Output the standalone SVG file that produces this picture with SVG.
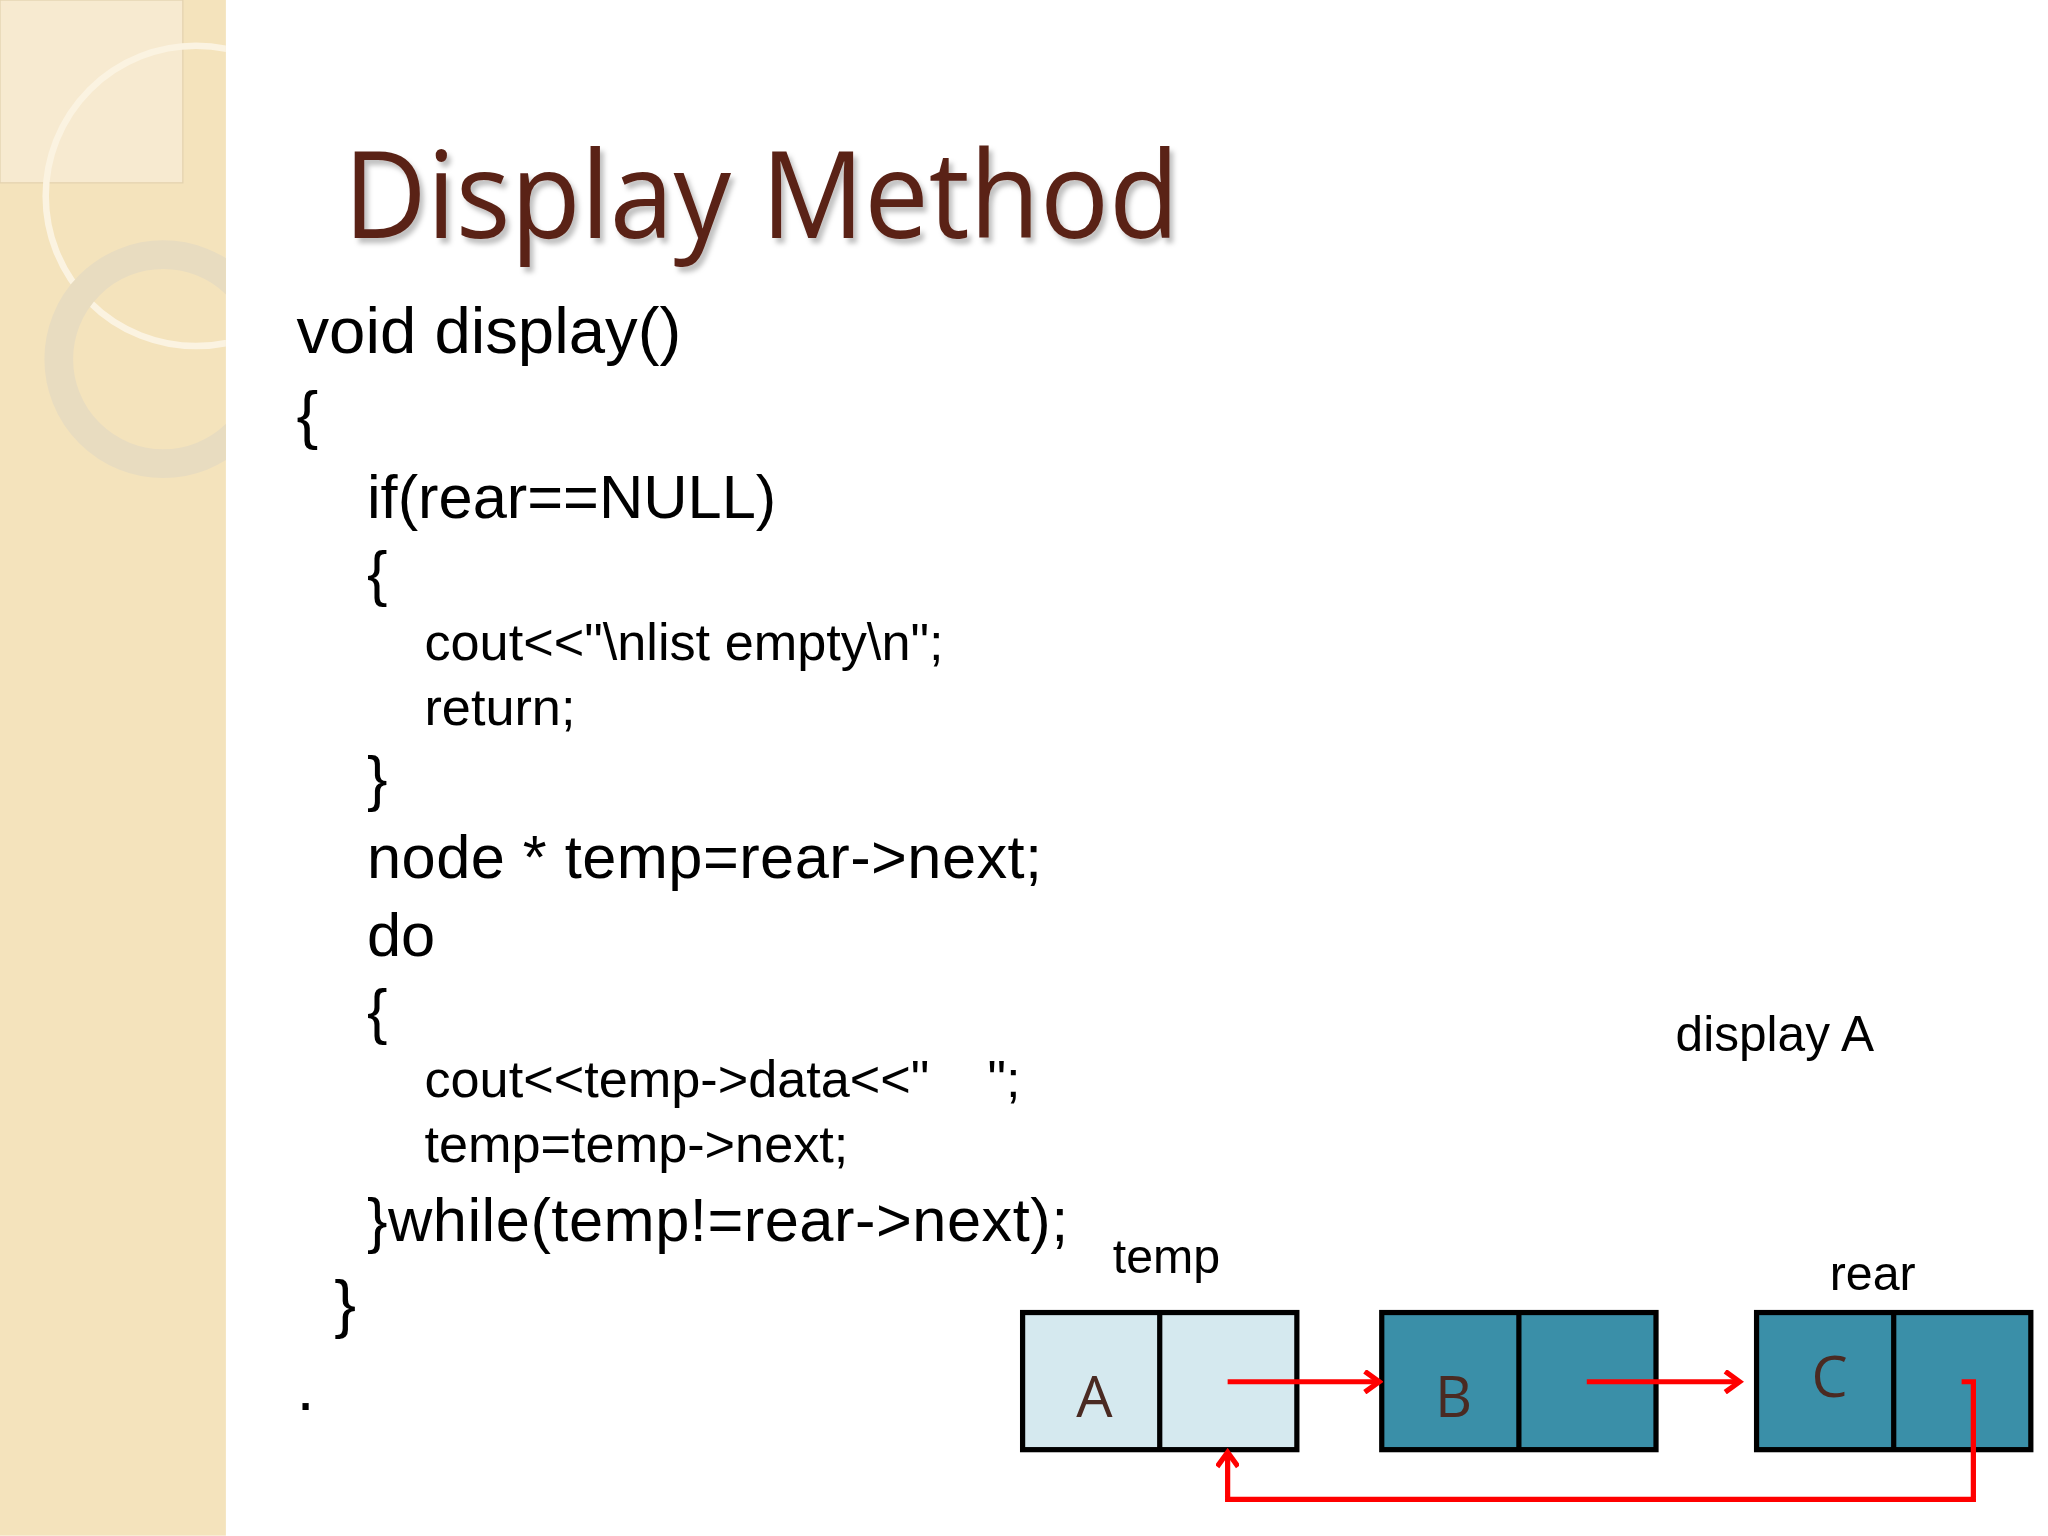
<svg xmlns="http://www.w3.org/2000/svg" width="2048" height="1536" viewBox="0 0 2048 1536">
<defs>
<style>
.c{font-family:"Liberation Sans",Arial,sans-serif;fill:#000}
.n{stroke:#000;stroke-width:4}
.l{font-family:"Open Sans","Liberation Sans",sans-serif;fill:#4a2a22;font-size:44px;text-anchor:middle}
.a{stroke:#f00;stroke-width:4;fill:none}
</style>
<clipPath id="sb"><rect x="0" y="0" width="173" height="1176"/></clipPath>
<filter id="sh" x="-5%" y="-20%" width="110%" height="140%"><feDropShadow dx="3" dy="4" stdDeviation="2" flood-color="#000" flood-opacity="0.25"/></filter>
<marker id="ah" markerWidth="16" markerHeight="18" refX="13" refY="9" orient="auto" markerUnits="userSpaceOnUse"><path d="M2,1 L13,9 L2,17" fill="none" stroke="#f00" stroke-width="4"/></marker>
</defs>
<rect width="2048" height="1536" fill="#fff"/>
<g transform="scale(1.306)">
<g id="sidebar" clip-path="url(#sb)">
<rect x="0" y="0" width="173" height="1176" fill="#f4e3bc"/>
<rect x="0" y="0" width="140" height="140" fill="#f7ead0" stroke="#e4d3b0"/>
<circle cx="150" cy="150" r="115" fill="none" stroke="#fbf3e1" stroke-width="5"/>
<circle cx="125" cy="275" r="80" fill="none" stroke="#e8dcc0" stroke-width="22"/>
</g>
<text id="title" x="263" y="182" font-family="'Open Sans','Liberation Sans',sans-serif" font-size="92" fill="#5a2418" textLength="640" lengthAdjust="spacingAndGlyphs" filter="url(#sh)">Display Method</text>
<g id="code" class="c">
<text x="227" y="270" font-size="50" class="c">void display()</text>
<text x="227" y="335" font-size="50" class="c">{</text>
<text x="281" y="397" font-size="47" class="c">if(rear==NULL)</text>
<text x="281" y="455" font-size="47" class="c">{</text>
<text x="325" y="505" font-size="40" class="c">cout&lt;&lt;"\nlist empty\n";</text>
<text x="325" y="555" font-size="40" class="c">return;</text>
<text x="281" y="612" font-size="47" class="c">}</text>
<text x="281" y="672" font-size="47" class="c" textLength="517">node * temp=rear-&gt;next;</text>
<text x="281" y="732" font-size="47" class="c">do</text>
<text x="281" y="790" font-size="47" class="c">{</text>
<text x="325" y="840" font-size="40" class="c" xml:space="preserve">cout&lt;&lt;temp-&gt;data&lt;&lt;"    ";</text>
<text x="325" y="890" font-size="40" class="c">temp=temp-&gt;next;</text>
<text x="281" y="950" font-size="47" class="c" textLength="537">}while(temp!=rear-&gt;next);</text>
<text x="256" y="1015" font-size="50" class="c">}</text>
<text x="227" y="1080" font-size="50" class="c">.</text>
</g>
<text x="1283" y="805" font-size="38" class="c">display A</text>
<text x="852" y="975" font-size="37" class="c">temp</text>
<text x="1401" y="988" font-size="37" class="c">rear</text>
<g id="nodeA"><rect x="783" y="1005" width="210" height="105" fill="#d5e9ef" class="n"/><line x1="888" y1="1005" x2="888" y2="1110" class="n"/><text x="838" y="1085" class="l">A</text></g>
<g id="nodeB"><rect x="1058" y="1005" width="210" height="105" fill="#3a8fa8" class="n"/><line x1="1163" y1="1005" x2="1163" y2="1110" class="n"/><text x="1113" y="1085" class="l">B</text></g>
<g id="nodeC"><rect x="1345" y="1005" width="210" height="105" fill="#3a8fa8" class="n"/><line x1="1450" y1="1005" x2="1450" y2="1110" class="n"/><text x="1401" y="1070" class="l">C</text></g>
<g id="connectors">
<line x1="940" y1="1058" x2="1056" y2="1058" class="a" marker-end="url(#ah)"/>
<line x1="1215" y1="1058" x2="1332" y2="1058" class="a" marker-end="url(#ah)"/>
<polyline points="1502,1058 1511,1058 1511,1148 940,1148 940,1112" class="a" marker-end="url(#ah)"/>
</g>
</g>
</svg>
